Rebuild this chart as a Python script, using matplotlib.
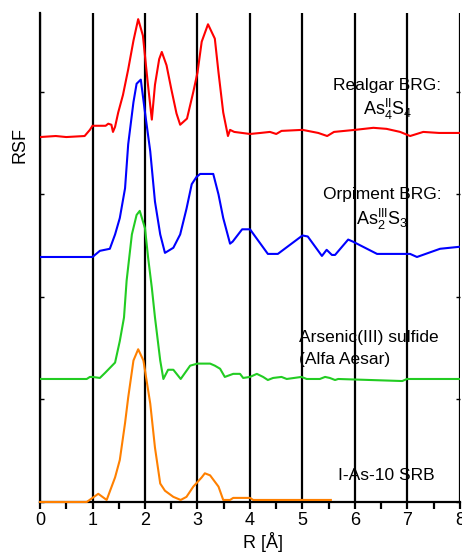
import matplotlib
matplotlib.use("Agg")
import matplotlib.pyplot as plt
from matplotlib.ticker import MultipleLocator

plt.rcParams['font.family'] = ['Liberation Sans', 'DejaVu Sans']
plt.rcParams['mathtext.fontset'] = 'custom'
plt.rcParams['mathtext.rm'] = 'Liberation Sans'
plt.rcParams['mathtext.it'] = 'Liberation Sans'

colors = {"red": "#ff0000", "blue": "#0000ff", "green": "#22cc22", "orange": "#ff8000"}

# Realgar BRG (offset already included)
r_realgar = [0, 0.3, 0.5, 0.85, 0.95, 1.0, 1.25, 1.3, 1.36, 1.39, 1.43, 1.49, 1.58, 1.68, 1.78,
             1.87, 1.96, 2.05, 2.13, 2.19, 2.27, 2.32, 2.41, 2.5, 2.6, 2.67, 2.8, 2.92, 3.0,
             3.08, 3.2, 3.33, 3.4, 3.49, 3.58, 3.62, 3.7, 3.85, 4.0, 4.2, 4.38, 4.5, 4.6,
             5.0, 5.3, 5.47, 5.6, 6.0, 6.35, 6.6, 6.86, 7.05, 7.3, 7.6, 8.0]
y_realgar = [3.56, 3.57, 3.56, 3.57, 3.63, 3.67, 3.67, 3.69, 3.68, 3.61, 3.66, 3.8, 3.97, 4.22, 4.5,
             4.71, 4.55, 4.1, 3.73, 4.07, 4.32, 4.39, 4.26, 4.03, 3.79, 3.68, 3.74, 4.0, 4.19,
             4.49, 4.66, 4.52, 4.19, 3.8, 3.57, 3.63, 3.61, 3.6, 3.59, 3.6, 3.61, 3.59, 3.62,
             3.63, 3.6, 3.57, 3.61, 3.63, 3.65, 3.64, 3.61, 3.57, 3.61, 3.6, 3.6]

# Orpiment BRG
r_orpiment = [0, 1.0, 1.14, 1.33, 1.43, 1.52, 1.62, 1.68, 1.78, 1.84, 1.92, 2.0, 2.1, 2.19, 2.29,
              2.38, 2.54, 2.67, 2.79, 2.89, 2.98, 3.05, 3.3, 3.4, 3.49, 3.62, 3.67, 3.85, 4.0,
              4.34, 4.53, 5.0, 5.1, 5.37, 5.46, 5.56, 5.62, 5.87, 5.96, 6.42, 7.05, 7.18, 7.62, 8.0]
y_orpiment = [2.39, 2.39, 2.45, 2.47, 2.61, 2.77, 3.06, 3.49, 3.9, 4.08, 4.12, 3.8, 3.42, 2.93, 2.61,
              2.43, 2.48, 2.61, 2.86, 3.1, 3.17, 3.2, 3.2, 3.0, 2.77, 2.52, 2.54, 2.66, 2.66,
              2.42, 2.42, 2.6, 2.59, 2.4, 2.46, 2.41, 2.41, 2.56, 2.54, 2.42, 2.42, 2.39, 2.47, 2.49]

# Arsenic(III) sulfide (Alfa Aesar)
r_sulfide = [0, 0.89, 0.95, 1.0, 1.14, 1.24, 1.43, 1.52, 1.6, 1.65, 1.75, 1.84, 1.9, 2.0, 2.06,
             2.13, 2.19, 2.29, 2.35, 2.44, 2.54, 2.68, 2.86, 3.0, 3.24, 3.33, 3.43, 3.52, 3.68,
             3.81, 3.87, 4.0, 4.13, 4.25, 4.34, 4.44, 4.6, 4.7, 4.98, 5.08, 5.33, 5.43, 5.52,
             5.62, 5.68, 6.9, 6.99, 8.0]
y_sulfide = [1.2, 1.2, 1.22, 1.22, 1.21, 1.26, 1.36, 1.57, 1.8, 2.16, 2.61, 2.8, 2.84, 2.67, 2.38,
             2.09, 1.8, 1.38, 1.2, 1.29, 1.29, 1.2, 1.33, 1.35, 1.35, 1.33, 1.3, 1.22, 1.25,
             1.25, 1.21, 1.22, 1.25, 1.22, 1.19, 1.21, 1.22, 1.2, 1.22, 1.2, 1.2, 1.22, 1.21,
             1.19, 1.2, 1.18, 1.2, 1.2]

# I-As-10 SRB
r_srb = [0, 0.89, 1.11, 1.27, 1.43, 1.52, 1.62, 1.68, 1.78, 1.87, 1.97, 2.1, 2.19, 2.29, 2.38,
         2.54, 2.68, 2.79, 2.92, 3.08, 3.14, 3.24, 3.4, 3.49, 3.62, 3.68, 4.0, 4.06, 5.54]
y_srb = [0, 0, 0.08, 0.02, 0.24, 0.41, 0.77, 1.02, 1.38, 1.49, 1.38, 0.96, 0.53, 0.18, 0.11,
         0.05, 0.02, 0.05, 0.15, 0.24, 0.28, 0.26, 0.15, 0.02, 0.02, 0.04, 0.04, 0.02, 0.02]

fig = plt.figure(figsize=(4.62, 5.56), dpi=100)
ax = fig.add_axes([40 / 462, 1 - 502 / 556, 420 / 462, 489 / 556])

# vertical grid lines
for xv in range(0, 9):
    ax.axvline(xv, color="black", lw=1.6, zorder=1)

ax.plot(r_realgar, y_realgar, color=colors["red"], lw=1.5, zorder=3)
ax.plot(r_orpiment, y_orpiment, color=colors["blue"], lw=1.5, zorder=3)
ax.plot(r_sulfide, y_sulfide, color=colors["green"], lw=1.5, zorder=3)
ax.plot(r_srb, y_srb, color=colors["orange"], lw=1.5, zorder=3, clip_on=False)

ax.set_xlim(0, 8)
ax.set_ylim(0, 4.77)

# labels
ax.text(6.62, 4.06, "Realgar BRG:", fontsize=12.5, ha="center", va="center")
ax.text(6.62, 3.83, r"As$^{\mathrm{II}}_{4}$S$_{4}$", fontsize=13, ha="center", va="center")
ax.text(6.52, 3.0, "Orpiment BRG:", fontsize=12.5, ha="center", va="center")
ax.text(6.52, 2.76, r"As$^{\mathrm{III}}_{2}$S$_{3}$", fontsize=13, ha="center", va="center")
ax.text(4.93, 1.6, "Arsenic(III) sulfide", fontsize=12.5, ha="left", va="center")
ax.text(4.93, 1.39, "(Alfa Aesar)", fontsize=12.5, ha="left", va="center")
ax.text(5.68, 0.26, "I-As-10 SRB", fontsize=12.5, ha="left", va="center")

ax.set_xlabel("R [Å]", fontsize=13, labelpad=2)
ax.xaxis.set_label_coords(0.53, -0.062)
ax.text(-0.048, 0.73, "RSF", fontsize=13, rotation=90, ha="center", va="center",
        transform=ax.transAxes)

# customize axes
ax.spines['top'].set_visible(False)
ax.spines['right'].set_visible(False)
ax.spines['left'].set_linewidth(1.6)
ax.spines['bottom'].set_linewidth(1.6)
ax.xaxis.set_major_locator(MultipleLocator(1))
ax.xaxis.set_minor_locator(MultipleLocator(0.5))
ax.tick_params(axis='x', which='major', direction='out', length=5, width=1.6, labelsize=13, pad=2)
ax.tick_params(axis='x', which='minor', direction='out', length=5, width=1.6)
ax.yaxis.set_major_locator(MultipleLocator(1))
ax.tick_params(axis='y', which='major', direction='in', length=3, width=1,
               left=True, right=True, labelleft=False)

plt.savefig("out.png", dpi=100)
